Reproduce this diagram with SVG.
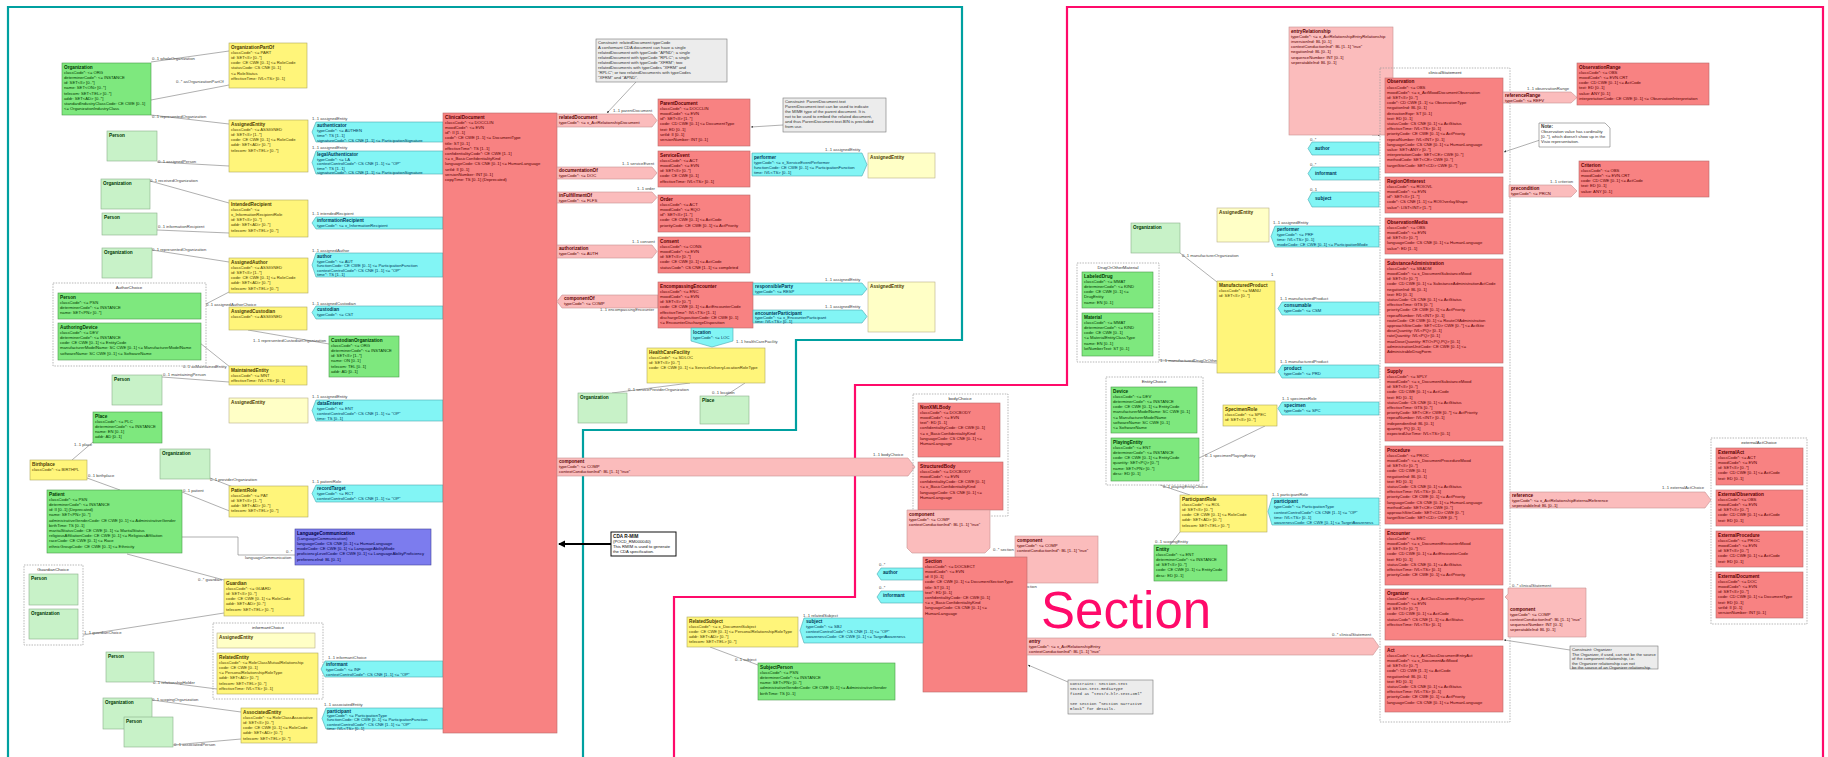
<svg xmlns="http://www.w3.org/2000/svg" width="1828" height="757" viewBox="0 0 1828 757">
<defs>
<style>
text{font-family:"Liberation Sans",Arial,sans-serif;font-size:4.2px}
.b{font-weight:bold;font-size:4.7px}
.red rect,.red path{fill:#f88282;stroke:#b86a6a;stroke-width:.6}
.red text{fill:#5a0000}
.pink rect,.pink path{fill:#fbbcbc;stroke:#c89090;stroke-width:.6}
.pink text{fill:#5a0000}
.cyan path,.cyan rect{fill:#82f5f5;stroke:#4aa8b0;stroke-width:.6}
.cyan text{fill:#003a5a}
.yel rect{fill:#fff57a;stroke:#b0a860;stroke-width:.6}
.yel text{fill:#4a3a00}
.lyel rect{fill:#ffffc6;stroke:#b8b088;stroke-width:.6}
.lyel text{fill:#4a3a00}
.grn rect{fill:#7ee87e;stroke:#4a9a4a;stroke-width:.6}
.grn text{fill:#003800}
.lgrn rect{fill:#c8f2c8;stroke:#8ab08a;stroke-width:.6}
.lgrn text{fill:#003800}
.pur rect{fill:#7c7cee;stroke:#44449a;stroke-width:.6}
.pur text{fill:#000044}
.note rect,.note path{fill:#ececec;stroke:#777;stroke-width:.6}
.note text{fill:#333}
.mono text{font-family:"Liberation Mono",monospace;font-size:4px}
.dash{fill:none;stroke:#999;stroke-dasharray:1.5 1.2;stroke-width:.7}
.ct{font-size:4.4px;fill:#333;text-anchor:middle}
.con path{fill:none;stroke:#7a7a7a;stroke-width:.6}
.lbl{font-size:3.7px;fill:#444}
.frame{fill:none;stroke-width:2.2}
</style>
<marker id="ah" viewBox="0 0 6 6" refX="6" refY="3" markerWidth="4" markerHeight="4" orient="auto"><path d="M0,0 L6,3 L0,6 Z" fill="#333"/></marker>
<marker id="bh" viewBox="0 0 6 6" refX="5" refY="3" markerWidth="4" markerHeight="4" orient="auto"><path d="M0,0 L6,3 L0,6 Z" fill="#000"/></marker>
</defs>
<rect width="1828" height="757" fill="#ffffff"/>

<!-- region frames -->
<path class="frame" d="M8,757 V7 H962 V340 H796 V430 H583 V757" stroke="#00a0a0"/>
<path class="frame" d="M674,757 V597 H855 V385 H1067 V7 H1823 V757" stroke="#ff0a6a"/>
<text x="1041" y="628" style="font-family:'Liberation Sans',Arial,sans-serif;font-size:51px;fill:#ff0a6a">Section</text>

<!-- connectors -->
<g id="connectors" class="con">
<path d="M151,62 L229,51"/><path d="M151,100 L229,85"/><path d="M151,115 L229,124"/>
<path d="M157,162 L229,166"/><path d="M150,181 L229,203"/><path d="M157,230 L229,233"/>
<path d="M152,250 L229,262"/><path d="M206,304 L229,292"/><path d="M248,330 L329,344"/>
<path d="M200,343 L230,367"/><path d="M162,377 L229,382"/><path d="M93,442 L72,460"/>
<path d="M87,478 L120,490"/><path d="M210,478 L233,487"/><path d="M182,492 L232,512"/>
<path d="M182,537 H238 V555 H295"/><path d="M127,554 L224,580"/><path d="M83,635 L224,613"/>
<path d="M154,681 L217,689"/><path d="M152,700 L241,712"/><path d="M173,745 L241,739"/>
<path d="M636,82 L607,113" marker-end="url(#ah)"/><path d="M783,125 L751,127" marker-end="url(#ah)"/>
<path d="M690,383 L612,393"/><path d="M745,383 L725,396"/>
<path d="M1068,682 L1028,665" marker-end="url(#ah)"/><path d="M710,647 L758,665"/>
<path d="M1180,253 L1217,282"/><path d="M1159,360 L1217,363"/><path d="M1265,426 L1199,458"/>
<path d="M1160,485 L1190,495"/><path d="M1180,532 L1170,545"/>
<path d="M1540,140 L1504,152" marker-end="url(#ah)"/><path d="M1570,650 L1504,640" marker-end="url(#ah)"/>
<path d="M1372,135 L1380,135" marker-end="url(#ah)"/>
<path d="M611,544 L559,544" style="stroke:#000;stroke-width:1.8" marker-end="url(#bh)"/>
<g class="lbl">
<text x="152" y="60">0..1 wholeOrganization</text>
<text x="176" y="83">0..* asOrganizationPartOf</text>
<text x="152" y="118">0..1 representedOrganization</text>
<text x="158" y="163">0..1 assignedPerson</text>
<text x="150" y="182">0..1 receivedOrganization</text>
<text x="158" y="228">0..1 informationRecipient</text>
<text x="152" y="251">0..1 representedOrganization</text>
<text x="206" y="306">0..1 assignedAuthorChoice</text>
<text x="253" y="342">1..1 representedCustodianOrganization</text>
<text x="183" y="368">0..1 asMaintainedEntity</text>
<text x="163" y="376">0..1 maintainingPerson</text>
<text x="74" y="446">1..1 place</text>
<text x="88" y="477">0..1 birthplace</text>
<text x="210" y="481">0..1 providerOrganization</text>
<text x="183" y="492">0..1 patient</text>
<text x="245" y="559">languageCommunication</text>
<text x="286" y="553">0..*</text>
<text x="198" y="581">0..* guardian</text>
<text x="84" y="634">1..1 guardianChoice</text>
<text x="153" y="684">0..1 relationshipHolder</text>
<text x="152" y="701">0..1 scopingOrganization</text>
<text x="174" y="746">0..1 associatedPerson</text>
<text x="312" y="120">1..1 assignedEntity</text>
<text x="312" y="149">1..1 assignedEntity</text>
<text x="312" y="215">1..1 intendedRecipient</text>
<text x="312" y="252">1..1 assignedAuthor</text>
<text x="312" y="305">1..1 assignedCustodian</text>
<text x="312" y="398">1..1 assignedEntity</text>
<text x="312" y="483">1..1 patientRole</text>
<text x="328" y="659">1..1 informantChoice</text>
<text x="324" y="706">1..1 associatedEntity</text>
<text x="613" y="112">1..1 parentDocument</text>
<text x="622" y="165">1..1 serviceEvent</text>
<text x="637" y="190">1..1 order</text>
<text x="632" y="243">1..1 consent</text>
<text x="600" y="311">1..1 encompassingEncounter</text>
<text x="825" y="151">1..1 assignedEntity</text>
<text x="825" y="281">1..1 assignedEntity</text>
<text x="825" y="308">1..1 assignedEntity</text>
<text x="736" y="343">1..1 healthCareFacility</text>
<text x="628" y="391">0..1 serviceProviderOrganization</text>
<text x="712" y="394">0..1 location</text>
<text x="873" y="456">1..1 bodyChoice</text>
<text x="993" y="551">0..* section</text>
<text x="1016" y="588">0..* section</text>
<text x="879" y="566">0..*</text>
<text x="879" y="589">0..*</text>
<text x="803" y="617">1..1 relatedSubject</text>
<text x="735" y="661">0..1 subject</text>
<text x="1332" y="636">0..* clinicalStatement</text>
<text x="1342" y="134">0..* clinicalStatement</text>
<text x="1310" y="141">0..*</text>
<text x="1310" y="166">0..*</text>
<text x="1310" y="191">0..1</text>
<text x="1273" y="224">1..1 assignedEntity</text>
<text x="1182" y="257">0..1 manufacturerOrganization</text>
<text x="1160" y="362">1..1 manufacturedDrugOrOtherMaterial</text>
<text x="1280" y="300">1..1 manufacturedProduct</text>
<text x="1280" y="363">1..1 manufacturedProduct</text>
<text x="1282" y="400">1..1 specimenRole</text>
<text x="1205" y="457">0..1 specimenPlayingEntity</text>
<text x="1163" y="488">0..1 playingEntityChoice</text>
<text x="1155" y="543">0..1 scopingEntity</text>
<text x="1272" y="496">1..1 participantRole</text>
<text x="1527" y="90">1..1 observationRange</text>
<text x="1550" y="183">1..1 criterion</text>
<text x="1662" y="489">1..1 externalActChoice</text>
<text x="1512" y="587">0..* clinicalStatement</text>
<text x="1271" y="276">1</text>
</g>
</g>

<!-- LEFT: header participants -->
<g id="n-organization1" class="grn" transform="translate(62,63)"><rect width="89" height="52"/><text x="2" y="5.5"><tspan class="b">Organization</tspan><tspan x="2" dy="5.2">classCode*: &lt;= ORG</tspan><tspan x="2" dy="5.2">determinerCode*: &lt;= INSTANCE</tspan><tspan x="2" dy="5.2">id: SET&lt;II&gt; [0..*]</tspan><tspan x="2" dy="5.2">name: SET&lt;ON&gt; [0..*]</tspan><tspan x="2" dy="5.2">telecom: SET&lt;TEL&gt; [0..*]</tspan><tspan x="2" dy="5.2">addr: SET&lt;AD&gt; [0..*]</tspan><tspan x="2" dy="5.2">standardIndustryClassCode: CE CWE [0..1]</tspan><tspan x="2" dy="5.2">&lt;= OrganizationIndustryClass</tspan></text></g>
<g id="n-organizationpartof" class="yel" transform="translate(229,43)"><rect width="78" height="45"/><text x="2" y="5.5"><tspan class="b">OrganizationPartOf</tspan><tspan x="2" dy="5.2">classCode*: &lt;= PART</tspan><tspan x="2" dy="5.2">id: SET&lt;II&gt; [0..*]</tspan><tspan x="2" dy="5.2">code: CE CWE [0..1] &lt;= RoleCode</tspan><tspan x="2" dy="5.2">statusCode: CS CNE [0..1]</tspan><tspan x="2" dy="5.2">&lt;= RoleStatus</tspan><tspan x="2" dy="5.2">effectiveTime: IVL&lt;TS&gt; [0..1]</tspan></text></g>
<g id="n-assignedentity1" class="yel" transform="translate(229,120)"><rect width="79" height="52"/><text x="2" y="5.5"><tspan class="b">AssignedEntity</tspan><tspan x="2" dy="5.2">classCode*: &lt;= ASSIGNED</tspan><tspan x="2" dy="5.2">id: SET&lt;II&gt; [1..*]</tspan><tspan x="2" dy="5.2">code: CE CWE [0..1] &lt;= RoleCode</tspan><tspan x="2" dy="5.2">addr: SET&lt;AD&gt; [0..*]</tspan><tspan x="2" dy="5.2">telecom: SET&lt;TEL&gt; [0..*]</tspan></text></g>
<g id="n-person1" class="lgrn" transform="translate(107,131)"><rect width="50" height="30"/><text x="2" y="5.5"><tspan class="b">Person</tspan></text></g>
<g id="n-authenticator" class="cyan" transform="translate(312,122)"><path d="M4,0 H131 V20 H4 L0,10 Z"/><text x="5" y="5"><tspan class="b">authenticator</tspan><tspan x="5" dy="5">typeCode*: &lt;= AUTHEN</tspan><tspan x="5" dy="5">time*: TS [1..1]</tspan><tspan x="5" dy="5">signatureCode*: CS CNE [1..1] &lt;= ParticipationSignature</tspan></text></g>
<g id="n-legalauthenticator" class="cyan" transform="translate(312,151)"><path d="M4,0 H131 V23 H4 L0,11.5 Z"/><text x="5" y="5"><tspan class="b">legalAuthenticator</tspan><tspan x="5" dy="4.5">typeCode*: &lt;= LA</tspan><tspan x="5" dy="4.5">contextControlCode*: CS CNE [1..1] &lt;= "OP"</tspan><tspan x="5" dy="4.5">time*: TS [1..1]</tspan><tspan x="5" dy="4.5">signatureCode*: CS CNE [1..1] &lt;= ParticipationSignature</tspan></text></g>
<g id="n-organization2" class="lgrn" transform="translate(101,179)"><rect width="49" height="30"/><text x="2" y="5.5"><tspan class="b">Organization</tspan></text></g>
<g id="n-intendedrecipient" class="yel" transform="translate(229,200)"><rect width="79" height="37"/><text x="2" y="5.5"><tspan class="b">IntendedRecipient</tspan><tspan x="2" dy="5.2">classCode*: &lt;=</tspan><tspan x="2" dy="5.2">x_InformationRecipientRole</tspan><tspan x="2" dy="5.2">id: SET&lt;II&gt; [0..*]</tspan><tspan x="2" dy="5.2">addr: SET&lt;AD&gt; [0..*]</tspan><tspan x="2" dy="5.2">telecom: SET&lt;TEL&gt; [0..*]</tspan></text></g>
<g id="n-person2" class="lgrn" transform="translate(102,213)"><rect width="55" height="22"/><text x="2" y="5.5"><tspan class="b">Person</tspan></text></g>
<g id="n-informationrecipient" class="cyan" transform="translate(312,217)"><path d="M4,0 H131 V12 H4 L0,6 Z"/><text x="5" y="5"><tspan class="b">informationRecipient</tspan><tspan x="5" dy="5">typeCode*: &lt;= x_InformationRecipient</tspan></text></g>
<g id="n-organization3" class="lgrn" transform="translate(102,248)"><rect width="50" height="30"/><text x="2" y="5.5"><tspan class="b">Organization</tspan></text></g>
<g id="n-assignedauthor" class="yel" transform="translate(229,258)"><rect width="79" height="35"/><text x="2" y="5.5"><tspan class="b">AssignedAuthor</tspan><tspan x="2" dy="5.2">classCode*: &lt;= ASSIGNED</tspan><tspan x="2" dy="5.2">id: SET&lt;II&gt; [1..*]</tspan><tspan x="2" dy="5.2">code: CE CWE [0..1] &lt;= RoleCode</tspan><tspan x="2" dy="5.2">addr: SET&lt;AD&gt; [0..*]</tspan><tspan x="2" dy="5.2">telecom: SET&lt;TEL&gt; [0..*]</tspan></text></g>
<g id="n-author" class="cyan" transform="translate(312,253)"><path d="M4,0 H131 V24 H4 L0,12 Z"/><text x="5" y="5"><tspan class="b">author</tspan><tspan x="5" dy="4.6">typeCode*: &lt;= AUT</tspan><tspan x="5" dy="4.6">functionCode: CE CWE [0..1] &lt;= ParticipationFunction</tspan><tspan x="5" dy="4.6">contextControlCode*: CS CNE [1..1] &lt;= "OP"</tspan><tspan x="5" dy="4.6">time*: TS [1..1]</tspan></text></g>
<g id="n-authorchoice"><rect class="dash" x="53" y="283" width="153" height="83"/><text class="ct" x="129" y="289">AuthorChoice</text>
<g class="grn" transform="translate(58,293)"><rect width="143" height="26"/><text x="2" y="5.5"><tspan class="b">Person</tspan><tspan x="2" dy="5.2">classCode*: &lt;= PSN</tspan><tspan x="2" dy="5.2">determinerCode*: &lt;= INSTANCE</tspan><tspan x="2" dy="5.2">name: SET&lt;PN&gt; [0..*]</tspan></text></g>
<g class="grn" transform="translate(58,323)"><rect width="143" height="37"/><text x="2" y="5.5"><tspan class="b">AuthoringDevice</tspan><tspan x="2" dy="5.2">classCode*: &lt;= DEV</tspan><tspan x="2" dy="5.2">determinerCode*: &lt;= INSTANCE</tspan><tspan x="2" dy="5.2">code: CE CWE [0..1] &lt;= EntityCode</tspan><tspan x="2" dy="5.2">manufacturerModelName: SC CWE [0..1] &lt;= ManufacturerModelName</tspan><tspan x="2" dy="5.2">softwareName: SC CWE [0..1] &lt;= SoftwareName</tspan></text></g></g>
<g id="n-assignedcustodian" class="yel" transform="translate(229,307)"><rect width="78" height="23"/><text x="2" y="5.5"><tspan class="b">AssignedCustodian</tspan><tspan x="2" dy="5.2">classCode*: &lt;= ASSIGNED</tspan></text></g>
<g id="n-custodian" class="cyan" transform="translate(312,306)"><path d="M4,0 H131 V13 H4 L0,6.5 Z"/><text x="5" y="5"><tspan class="b">custodian</tspan><tspan x="5" dy="5">typeCode*: &lt;= CST</tspan></text></g>
<g id="n-custodianorganization" class="grn" transform="translate(329,336)"><rect width="70" height="41"/><text x="2" y="5.5"><tspan class="b">CustodianOrganization</tspan><tspan x="2" dy="5.2">classCode*: &lt;= ORG</tspan><tspan x="2" dy="5.2">determinerCode*: &lt;= INSTANCE</tspan><tspan x="2" dy="5.2">id: SET&lt;II&gt; [1..*]</tspan><tspan x="2" dy="5.2">name: ON [0..1]</tspan><tspan x="2" dy="5.2">telecom: TEL [0..1]</tspan><tspan x="2" dy="5.2">addr: AD [0..1]</tspan></text></g>
<g id="n-maintainedentity" class="yel" transform="translate(229,366)"><rect width="78" height="19"/><text x="2" y="5.5"><tspan class="b">MaintainedEntity</tspan><tspan x="2" dy="5.2">classCode*: &lt;= MNT</tspan><tspan x="2" dy="5.2">effectiveTime: IVL&lt;TS&gt; [0..1]</tspan></text></g>
<g id="n-person3" class="lgrn" transform="translate(112,375)"><rect width="50" height="30"/><text x="2" y="5.5"><tspan class="b">Person</tspan></text></g>
<g id="n-assignedentity2" class="lyel" transform="translate(229,398)"><rect width="79" height="25"/><text x="2" y="5.5"><tspan class="b">AssignedEntity</tspan></text></g>
<g id="n-dataenterer" class="cyan" transform="translate(312,400)"><path d="M4,0 H131 V21 H4 L0,10.5 Z"/><text x="5" y="5"><tspan class="b">dataEnterer</tspan><tspan x="5" dy="5">typeCode*: &lt;= ENT</tspan><tspan x="5" dy="5">contextControlCode*: CS CNE [1..1] &lt;= "OP"</tspan><tspan x="5" dy="5">time: TS [0..1]</tspan></text></g>
<g id="n-place1" class="grn" transform="translate(93,412)"><rect width="69" height="31"/><text x="2" y="5.5"><tspan class="b">Place</tspan><tspan x="2" dy="5.2">classCode*: &lt;= PLC</tspan><tspan x="2" dy="5.2">determinerCode*: &lt;= INSTANCE</tspan><tspan x="2" dy="5.2">name: EN [0..1]</tspan><tspan x="2" dy="5.2">addr: AD [0..1]</tspan></text></g>
<g id="n-birthplace" class="yel" transform="translate(30,460)"><rect width="57" height="20"/><text x="2" y="5.5"><tspan class="b">Birthplace</tspan><tspan x="2" dy="5.2">classCode*: &lt;= BIRTHPL</tspan></text></g>
<g id="n-organization4" class="lgrn" transform="translate(160,449)"><rect width="50" height="30"/><text x="2" y="5.5"><tspan class="b">Organization</tspan></text></g>
<g id="n-patientrole" class="yel" transform="translate(229,486)"><rect width="79" height="31"/><text x="2" y="5.5"><tspan class="b">PatientRole</tspan><tspan x="2" dy="5.2">classCode*: &lt;= PAT</tspan><tspan x="2" dy="5.2">id: SET&lt;II&gt; [1..*]</tspan><tspan x="2" dy="5.2">addr: SET&lt;AD&gt; [0..*]</tspan><tspan x="2" dy="5.2">telecom: SET&lt;TEL&gt; [0..*]</tspan></text></g>
<g id="n-recordtarget" class="cyan" transform="translate(312,485)"><path d="M4,0 H131 V17 H4 L0,8.5 Z"/><text x="5" y="5"><tspan class="b">recordTarget</tspan><tspan x="5" dy="5">typeCode*: &lt;= RCT</tspan><tspan x="5" dy="5">contextControlCode*: CS CNE [1..1] &lt;= "OP"</tspan></text></g>
<g id="n-patient" class="grn" transform="translate(47,490)"><rect width="135" height="63"/><text x="2" y="5.5"><tspan class="b">Patient</tspan><tspan x="2" dy="5.2">classCode*: &lt;= PSN</tspan><tspan x="2" dy="5.2">determinerCode*: &lt;= INSTANCE</tspan><tspan x="2" dy="5.2">id: II [0..1] (Deprecated)</tspan><tspan x="2" dy="5.2">name: SET&lt;PN&gt; [0..*]</tspan><tspan x="2" dy="5.2">administrativeGenderCode: CE CWE [0..1] &lt;= AdministrativeGender</tspan><tspan x="2" dy="5.2">birthTime: TS [0..1]</tspan><tspan x="2" dy="5.2">maritalStatusCode: CE CWE [0..1] &lt;= MaritalStatus</tspan><tspan x="2" dy="5.2">religiousAffiliationCode: CE CWE [0..1] &lt;= ReligiousAffiliation</tspan><tspan x="2" dy="5.2">raceCode: CE CWE [0..1] &lt;= Race</tspan><tspan x="2" dy="5.2">ethnicGroupCode: CE CWE [0..1] &lt;= Ethnicity</tspan></text></g>
<g id="n-languagecommunication" class="pur" transform="translate(295,529)"><rect width="136" height="36"/><text x="2" y="5.5"><tspan class="b">LanguageCommunication</tspan><tspan x="2" dy="5.2">(LanguageCommunication)</tspan><tspan x="2" dy="5.2">languageCode: CS CNE [0..1] &lt;= HumanLanguage</tspan><tspan x="2" dy="5.2">modeCode: CE CWE [0..1] &lt;= LanguageAbilityMode</tspan><tspan x="2" dy="5.2">proficiencyLevelCode: CE CWE [0..1] &lt;= LanguageAbilityProficiency</tspan><tspan x="2" dy="5.2">preferenceInd: BL [0..1]</tspan></text></g>
<g id="n-guardian" class="yel" transform="translate(224,579)"><rect width="80" height="37"/><text x="2" y="5.5"><tspan class="b">Guardian</tspan><tspan x="2" dy="5.2">classCode*: &lt;= GUARD</tspan><tspan x="2" dy="5.2">id: SET&lt;II&gt; [0..*]</tspan><tspan x="2" dy="5.2">code: CE CWE [0..1] &lt;= RoleCode</tspan><tspan x="2" dy="5.2">addr: SET&lt;AD&gt; [0..*]</tspan><tspan x="2" dy="5.2">telecom: SET&lt;TEL&gt; [0..*]</tspan></text></g>
<g id="n-guardianchoice"><rect class="dash" x="24" y="565" width="59" height="80"/><text class="ct" x="53" y="571">GuardianChoice</text>
<g class="lgrn" transform="translate(29,574)"><rect width="49" height="31"/><text x="2" y="5.5"><tspan class="b">Person</tspan></text></g>
<g class="lgrn" transform="translate(29,609)"><rect width="49" height="30"/><text x="2" y="5.5"><tspan class="b">Organization</tspan></text></g></g>
<g id="n-informantchoice"><rect class="dash" x="213" y="623" width="110" height="76"/><text class="ct" x="268" y="629">informantChoice</text>
<g class="lyel" transform="translate(217,633)"><rect width="98" height="15"/><text x="2" y="5.5"><tspan class="b">AssignedEntity</tspan></text></g>
<g class="yel" transform="translate(217,653)"><rect width="101" height="41"/><text x="2" y="5.5"><tspan class="b">RelatedEntity</tspan><tspan x="2" dy="5.2">classCode*: &lt;= RoleClassMutualRelationship</tspan><tspan x="2" dy="5.2">code: CE CWE [0..1]</tspan><tspan x="2" dy="5.2">&lt;= PersonalRelationshipRoleType</tspan><tspan x="2" dy="5.2">addr: SET&lt;AD&gt; [0..*]</tspan><tspan x="2" dy="5.2">telecom: SET&lt;TEL&gt; [0..*]</tspan><tspan x="2" dy="5.2">effectiveTime: IVL&lt;TS&gt; [0..1]</tspan></text></g></g>
<g id="n-informant" class="cyan" transform="translate(321,661)"><path d="M4,0 H122 V16 H4 L0,8 Z"/><text x="5" y="5"><tspan class="b">informant</tspan><tspan x="5" dy="5">typeCode*: &lt;= INF</tspan><tspan x="5" dy="5">contextControlCode*: CS CNE [1..1] &lt;= "OP"</tspan></text></g>
<g id="n-person4" class="lgrn" transform="translate(106,652)"><rect width="48" height="30"/><text x="2" y="5.5"><tspan class="b">Person</tspan></text></g>
<g id="n-organization5" class="lgrn" transform="translate(103,698)"><rect width="49" height="31"/><text x="2" y="5.5"><tspan class="b">Organization</tspan></text></g>
<g id="n-person5" class="lgrn" transform="translate(124,717)"><rect width="49" height="30"/><text x="2" y="5.5"><tspan class="b">Person</tspan></text></g>
<g id="n-associatedentity" class="yel" transform="translate(241,708)"><rect width="76" height="35"/><text x="2" y="5.5"><tspan class="b">AssociatedEntity</tspan><tspan x="2" dy="5.2">classCode*: &lt;= RoleClassAssociative</tspan><tspan x="2" dy="5.2">id: SET&lt;II&gt; [0..*]</tspan><tspan x="2" dy="5.2">code: CE CWE [0..1] &lt;= RoleCode</tspan><tspan x="2" dy="5.2">addr: SET&lt;AD&gt; [0..*]</tspan><tspan x="2" dy="5.2">telecom: SET&lt;TEL&gt; [0..*]</tspan></text></g>
<g id="n-participant1" class="cyan" transform="translate(322,708)"><path d="M4,0 H121 V21 H4 L0,10.5 Z"/><text x="5" y="5"><tspan class="b">participant</tspan><tspan x="5" dy="4.2">typeCode*: &lt;= ParticipationType</tspan><tspan x="5" dy="4.2">functionCode: CE CWE [0..1] &lt;= ParticipationFunction</tspan><tspan x="5" dy="4.2">contextControlCode*: CS CNE [1..1] &lt;= "OP"</tspan><tspan x="5" dy="4.2">time: IVL&lt;TS&gt; [0..1]</tspan></text></g>

<!-- ClinicalDocument -->
<g id="n-clinicaldocument" class="red" transform="translate(443,113)"><rect width="114" height="620"/><text x="2" y="5.5"><tspan class="b">ClinicalDocument</tspan><tspan x="2" dy="5.2">classCode*: &lt;= DOCCLIN</tspan><tspan x="2" dy="5.2">moodCode*: &lt;= EVN</tspan><tspan x="2" dy="5.2">id*: II [1..1]</tspan><tspan x="2" dy="5.2">code*: CE CWE [1..1] &lt;= DocumentType</tspan><tspan x="2" dy="5.2">title: ST [0..1]</tspan><tspan x="2" dy="5.2">effectiveTime*: TS [1..1]</tspan><tspan x="2" dy="5.2">confidentialityCode*: CE CWE [1..1]</tspan><tspan x="2" dy="5.2">&lt;= x_BasicConfidentialityKind</tspan><tspan x="2" dy="5.2">languageCode: CS CNE [0..1] &lt;= HumanLanguage</tspan><tspan x="2" dy="5.2">setId: II [0..1]</tspan><tspan x="2" dy="5.2">versionNumber: INT [0..1]</tspan><tspan x="2" dy="5.2">copyTime: TS [0..1] (Deprecated)</tspan></text></g>

<!-- MIDDLE -->
<g id="n-note-relateddocument" class="note" transform="translate(596,39)"><rect width="131" height="43"/><text x="2" y="5"><tspan>Constraint: relatedDocument.typeCode</tspan><tspan x="2" dy="5">A conformant CDA document can have a single</tspan><tspan x="2" dy="5">relatedDocument with typeCode "APND"; a single</tspan><tspan x="2" dy="5">relatedDocument with typeCode "RPLC"; a single</tspan><tspan x="2" dy="5">relatedDocument with typeCode "XFRM"; two</tspan><tspan x="2" dy="5">relatedDocuments with typeCodes "XFRM" and</tspan><tspan x="2" dy="5">"RPLC"; or two relatedDocuments with typeCodes</tspan><tspan x="2" dy="5">"XFRM" and "APND".</tspan></text></g>
<g id="n-relateddocument" class="pink" transform="translate(557,114)"><path d="M0,0 H95 L100,6.5 L95,13 H0 Z"/><text x="2" y="5"><tspan class="b">relatedDocument</tspan><tspan x="2" dy="5">typeCode*: &lt;= x_ActRelationshipDocument</tspan></text></g>
<g id="n-parentdocument" class="red" transform="translate(658,99)"><rect width="92" height="47"/><text x="2" y="5.5"><tspan class="b">ParentDocument</tspan><tspan x="2" dy="5.2">classCode*: &lt;= DOCCLIN</tspan><tspan x="2" dy="5.2">moodCode*: &lt;= EVN</tspan><tspan x="2" dy="5.2">id*: SET&lt;II&gt; [1..*]</tspan><tspan x="2" dy="5.2">code: CD CWE [0..1] &lt;= DocumentType</tspan><tspan x="2" dy="5.2">text: ED [0..1]</tspan><tspan x="2" dy="5.2">setId: II [0..1]</tspan><tspan x="2" dy="5.2">versionNumber: INT [0..1]</tspan></text></g>
<g id="n-note-parentdocument" class="note" transform="translate(783,98)"><rect width="103" height="34"/><text x="2" y="5"><tspan>Constraint: ParentDocument.text</tspan><tspan x="2" dy="5">ParentDocument.text can be used to indicate</tspan><tspan x="2" dy="5">the MIME type of the parent document. It is</tspan><tspan x="2" dy="5">not to be used to embed the related document,</tspan><tspan x="2" dy="5">and thus ParentDocument.text.BIN is precluded</tspan><tspan x="2" dy="5">from use.</tspan></text></g>
<g id="n-documentationof" class="pink" transform="translate(557,167)"><path d="M0,0 H95 L100,6 L95,12 H0 Z"/><text x="2" y="5"><tspan class="b">documentationOf</tspan><tspan x="2" dy="5">typeCode*: &lt;= DOC</tspan></text></g>
<g id="n-serviceevent" class="red" transform="translate(658,151)"><rect width="92" height="36"/><text x="2" y="5.5"><tspan class="b">ServiceEvent</tspan><tspan x="2" dy="5.2">classCode*: &lt;= ACT</tspan><tspan x="2" dy="5.2">moodCode*: &lt;= EVN</tspan><tspan x="2" dy="5.2">id: SET&lt;II&gt; [0..*]</tspan><tspan x="2" dy="5.2">code: CE CWE [0..1]</tspan><tspan x="2" dy="5.2">effectiveTime: IVL&lt;TS&gt; [0..1]</tspan></text></g>
<g id="n-performer1" class="cyan" transform="translate(752,153)"><path d="M0,0 H110 L115,11.5 L110,23 H0 Z"/><text x="2" y="5.5"><tspan class="b">performer</tspan><tspan x="2" dy="5">typeCode*: &lt;= x_ServiceEventPerformer</tspan><tspan x="2" dy="5">functionCode: CE CWE [0..1] &lt;= ParticipationFunction</tspan><tspan x="2" dy="5">time: IVL&lt;TS&gt; [0..1]</tspan></text></g>
<g id="n-assignedentity3" class="lyel" transform="translate(868,153)"><rect width="67" height="25"/><text x="2" y="5.5"><tspan class="b">AssignedEntity</tspan></text></g>
<g id="n-infulfillmentof" class="pink" transform="translate(557,192)"><path d="M0,0 H95 L100,5.5 L95,11 H0 Z"/><text x="2" y="4.8"><tspan class="b">inFulfillmentOf</tspan><tspan x="2" dy="4.8">typeCode*: &lt;= FLFS</tspan></text></g>
<g id="n-order" class="red" transform="translate(658,195)"><rect width="92" height="37"/><text x="2" y="5.5"><tspan class="b">Order</tspan><tspan x="2" dy="5.2">classCode*: &lt;= ACT</tspan><tspan x="2" dy="5.2">moodCode*: &lt;= RQO</tspan><tspan x="2" dy="5.2">id*: SET&lt;II&gt; [1..*]</tspan><tspan x="2" dy="5.2">code: CE CWE [0..1] &lt;= ActCode</tspan><tspan x="2" dy="5.2">priorityCode: CE CWE [0..1] &lt;= ActPriority</tspan></text></g>
<g id="n-authorization" class="pink" transform="translate(557,245)"><path d="M0,0 H95 L100,6.5 L95,13 H0 Z"/><text x="2" y="5"><tspan class="b">authorization</tspan><tspan x="2" dy="5">typeCode*: &lt;= AUTH</tspan></text></g>
<g id="n-consent" class="red" transform="translate(658,237)"><rect width="92" height="36"/><text x="2" y="5.5"><tspan class="b">Consent</tspan><tspan x="2" dy="5.2">classCode*: &lt;= CONS</tspan><tspan x="2" dy="5.2">moodCode*: &lt;= EVN</tspan><tspan x="2" dy="5.2">id: SET&lt;II&gt; [0..*]</tspan><tspan x="2" dy="5.2">code: CE CWE [0..1] &lt;= ActCode</tspan><tspan x="2" dy="5.2">statusCode*: CS CNE [1..1] &lt;= completed</tspan></text></g>
<g id="n-componentof" class="pink" transform="translate(557,295)"><path d="M5,0 H101 V13 H5 L0,6.5 Z"/><text x="7" y="5"><tspan class="b">componentOf</tspan><tspan x="7" dy="5">typeCode*: &lt;= COMP</tspan></text></g>
<g id="n-encompassingencounter" class="red" transform="translate(658,282)"><rect width="95" height="46"/><text x="2" y="5.5"><tspan class="b">EncompassingEncounter</tspan><tspan x="2" dy="5.2">classCode*: &lt;= ENC</tspan><tspan x="2" dy="5.2">moodCode*: &lt;= EVN</tspan><tspan x="2" dy="5.2">id: SET&lt;II&gt; [0..*]</tspan><tspan x="2" dy="5.2">code: CE CWE [0..1] &lt;= ActEncounterCode</tspan><tspan x="2" dy="5.2">effectiveTime*: IVL&lt;TS&gt; [1..1]</tspan><tspan x="2" dy="5.2">dischargeDispositionCode: CE CWE [0..1]</tspan><tspan x="2" dy="5.2">&lt;= EncounterDischargeDisposition</tspan></text></g>
<g id="n-responsibleparty" class="cyan" transform="translate(753,283)"><path d="M0,0 H109 L114,6 L109,12 H0 Z"/><text x="2" y="5"><tspan class="b">responsibleParty</tspan><tspan x="2" dy="5">typeCode*: &lt;= RESP</tspan></text></g>
<g id="n-encounterparticipant" class="cyan" transform="translate(753,310)"><path d="M0,0 H109 L114,6.5 L109,13 H0 Z"/><text x="2" y="4.5"><tspan class="b">encounterParticipant</tspan><tspan x="2" dy="4.3">typeCode*: &lt;= x_EncounterParticipant</tspan><tspan x="2" dy="4.3">time: IVL&lt;TS&gt; [0..1]</tspan></text></g>
<g id="n-assignedentity4" class="lyel" transform="translate(868,282)"><rect width="67" height="50"/><text x="2" y="5.5"><tspan class="b">AssignedEntity</tspan></text></g>
<g id="n-location" class="cyan" transform="translate(691,328)"><path d="M0,0 H42 V13 L21,19 L0,13 Z"/><text x="2" y="5.5"><tspan class="b">location</tspan><tspan x="2" dy="5">typeCode*: &lt;= LOC</tspan></text></g>
<g id="n-healthcarefacility" class="yel" transform="translate(647,348)"><rect width="118" height="35"/><text x="2" y="5.5"><tspan class="b">HealthCareFacility</tspan><tspan x="2" dy="5.2">classCode*: &lt;= SDLOC</tspan><tspan x="2" dy="5.2">id: SET&lt;II&gt; [0..*]</tspan><tspan x="2" dy="5.2">code: CE CWE [0..1] &lt;= ServiceDeliveryLocationRoleType</tspan></text></g>
<g id="n-organization6" class="lgrn" transform="translate(578,393)"><rect width="49" height="30"/><text x="2" y="5.5"><tspan class="b">Organization</tspan></text></g>
<g id="n-place2" class="lgrn" transform="translate(700,396)"><rect width="49" height="28"/><text x="2" y="5.5"><tspan class="b">Place</tspan></text></g>
<g id="n-component-body" class="pink" transform="translate(557,458)"><path d="M0,0 H351 L358,9 L351,18 H0 Z"/><text x="2" y="5.2"><tspan class="b">component</tspan><tspan x="2" dy="5">typeCode*: &lt;= COMP</tspan><tspan x="2" dy="5">contextConductionInd*: BL [1..1] "true"</tspan></text></g>
<g id="n-cda-rmim" transform="translate(611,532)"><rect width="65" height="24" fill="#fff" stroke="#111" stroke-width="1"/><text x="2" y="5.5" fill="#111"><tspan class="b">CDA R-MIM</tspan><tspan x="2" dy="5">(POCD_RM000040)</tspan><tspan x="2" dy="5">This RMIM is used to generate</tspan><tspan x="2" dy="5">the CDA specification.</tspan></text></g>

<!-- SECTION AREA -->
<g id="n-bodychoice"><rect class="dash" x="913" y="394" width="95" height="122"/><text class="ct" x="960" y="400">bodyChoice</text>
<g class="red" transform="translate(918,403)"><rect width="82" height="54"/><text x="2" y="5.5"><tspan class="b">NonXMLBody</tspan><tspan x="2" dy="5.2">classCode*: &lt;= DOCBODY</tspan><tspan x="2" dy="5.2">moodCode*: &lt;= EVN</tspan><tspan x="2" dy="5.2">text*: ED [1..1]</tspan><tspan x="2" dy="5.2">confidentialityCode: CE CWE [0..1]</tspan><tspan x="2" dy="5.2">&lt;= x_BasicConfidentialityKind</tspan><tspan x="2" dy="5.2">languageCode: CS CNE [0..1] &lt;=</tspan><tspan x="2" dy="5.2">HumanLanguage</tspan></text></g>
<g class="red" transform="translate(918,462)"><rect width="85" height="48"/><text x="2" y="5.5"><tspan class="b">StructuredBody</tspan><tspan x="2" dy="5.2">classCode*: &lt;= DOCBODY</tspan><tspan x="2" dy="5.2">moodCode*: &lt;= EVN</tspan><tspan x="2" dy="5.2">confidentialityCode: CE CWE [0..1]</tspan><tspan x="2" dy="5.2">&lt;= x_BasicConfidentialityKind</tspan><tspan x="2" dy="5.2">languageCode: CS CNE [0..1] &lt;=</tspan><tspan x="2" dy="5.2">HumanLanguage</tspan></text></g></g>
<g id="n-component-section" class="pink" transform="translate(907,510)"><path d="M0,0 H83 V38 L78,43 H5 L0,38 Z"/><text x="2" y="5.5"><tspan class="b">component</tspan><tspan x="2" dy="5">typeCode*: &lt;= COMP</tspan><tspan x="2" dy="5">contextConductionInd*: BL [1..1] "true"</tspan></text></g>
<g id="n-component-subsection" class="pink" transform="translate(1015,536)"><rect width="83" height="47"/><text x="2" y="5.5"><tspan class="b">component</tspan><tspan x="2" dy="5">typeCode*: &lt;= COMP</tspan><tspan x="2" dy="5">contextConductionInd*: BL [1..1] "true"</tspan></text></g>
<g id="n-section" class="red" transform="translate(923,557)"><rect width="104" height="135"/><text x="2" y="5.5"><tspan class="b">Section</tspan><tspan x="2" dy="5.2">classCode*: &lt;= DOCSECT</tspan><tspan x="2" dy="5.2">moodCode*: &lt;= EVN</tspan><tspan x="2" dy="5.2">id: II [0..1]</tspan><tspan x="2" dy="5.2">code: CE CWE [0..1] &lt;= DocumentSectionType</tspan><tspan x="2" dy="5.2">title: ST [0..1]</tspan><tspan x="2" dy="5.2">text*: ED [0..1]</tspan><tspan x="2" dy="5.2">confidentialityCode: CE CWE [0..1]</tspan><tspan x="2" dy="5.2">&lt;= x_BasicConfidentialityKind</tspan><tspan x="2" dy="5.2">languageCode: CS CNE [0..1] &lt;=</tspan><tspan x="2" dy="5.2">HumanLanguage</tspan></text></g>
<g id="n-author2" class="cyan" transform="translate(877,568)"><path d="M4,0 H46 V12 H4 L0,6 Z"/><text x="6" y="5.5"><tspan class="b">author</tspan></text></g>
<g id="n-informant2" class="cyan" transform="translate(877,591)"><path d="M4,0 H46 V12 H4 L0,6 Z"/><text x="6" y="5.5"><tspan class="b">informant</tspan></text></g>
<g id="n-subject1" class="cyan" transform="translate(800,618)"><path d="M4,0 H123 V25 H4 L0,12.5 Z"/><text x="6" y="5.2"><tspan class="b">subject</tspan><tspan x="6" dy="5">typeCode*: &lt;= SBJ</tspan><tspan x="6" dy="5">contextControlCode*: CS CNE [1..1] &lt;= "OP"</tspan><tspan x="6" dy="5">awarenessCode: CE CWE [0..1] &lt;= TargetAwareness</tspan></text></g>
<g id="n-relatedsubject" class="yel" transform="translate(687,617)"><rect width="111" height="30"/><text x="2" y="5.5"><tspan class="b">RelatedSubject</tspan><tspan x="2" dy="5.2">classCode*: &lt;= x_DocumentSubject</tspan><tspan x="2" dy="5.2">code: CE CWE [0..1] &lt;= PersonalRelationshipRoleType</tspan><tspan x="2" dy="5.2">addr: SET&lt;AD&gt; [0..*]</tspan><tspan x="2" dy="5.2">telecom: SET&lt;TEL&gt; [0..*]</tspan></text></g>
<g id="n-subjectperson" class="grn" transform="translate(758,663)"><rect width="137" height="37"/><text x="2" y="5.5"><tspan class="b">SubjectPerson</tspan><tspan x="2" dy="5.2">classCode*: &lt;= PSN</tspan><tspan x="2" dy="5.2">determinerCode*: &lt;= INSTANCE</tspan><tspan x="2" dy="5.2">name: SET&lt;PN&gt; [0..*]</tspan><tspan x="2" dy="5.2">administrativeGenderCode: CE CWE [0..1] &lt;= AdministrativeGender</tspan><tspan x="2" dy="5.2">birthTime: TS [0..1]</tspan></text></g>
<g id="n-entry" class="pink" transform="translate(1027,638)"><path d="M0,0 H346 L352,8.5 L346,17 H0 Z"/><text x="2" y="5.2"><tspan class="b">entry</tspan><tspan x="2" dy="5">typeCode*: &lt;= x_ActRelationshipEntry</tspan><tspan x="2" dy="5">contextConductionInd*: BL [1..1] "true"</tspan></text></g>
<g id="n-note-sectiontext" class="note mono" transform="translate(1068,680)"><rect width="85" height="34"/><text x="2" y="5"><tspan>Constraint: Section.text</tspan><tspan x="2" dy="5">Section.text.mediaType</tspan><tspan x="2" dy="5">fixed as "text/x-hl7-text+xml"</tspan><tspan x="2" dy="10">See section "Section Narrative</tspan><tspan x="2" dy="5">Block" for details.</tspan></text></g>

<!-- RIGHT AREA -->
<g id="n-entryrelationship" class="pink" transform="translate(1289,27)"><rect width="104" height="108"/><text x="2" y="5.5"><tspan class="b">entryRelationship</tspan><tspan x="2" dy="5.2">typeCode*: &lt;= x_ActRelationshipEntryRelationship</tspan><tspan x="2" dy="5.2">inversionInd: BL [0..1]</tspan><tspan x="2" dy="5.2">contextConductionInd*: BL [1..1] "true"</tspan><tspan x="2" dy="5.2">negationInd: BL [0..1]</tspan><tspan x="2" dy="5.2">sequenceNumber: INT [0..1]</tspan><tspan x="2" dy="5.2">seperatableInd: BL [0..1]</tspan></text></g>
<g id="n-author3" class="cyan" transform="translate(1308,142)"><path d="M4,0 H71 V13 H4 L0,6.5 Z"/><text x="7" y="7.5"><tspan class="b">author</tspan></text></g>
<g id="n-informant3" class="cyan" transform="translate(1308,167)"><path d="M4,0 H71 V13 H4 L0,6.5 Z"/><text x="7" y="7.5"><tspan class="b">informant</tspan></text></g>
<g id="n-subject2" class="cyan" transform="translate(1308,192)"><path d="M4,0 H71 V15 H4 L0,7.5 Z"/><text x="7" y="8"><tspan class="b">subject</tspan></text></g>
<g id="n-assignedentity5" class="lyel" transform="translate(1217,208)"><rect width="52" height="34"/><text x="2" y="5.5"><tspan class="b">AssignedEntity</tspan></text></g>
<g id="n-performer2" class="cyan" transform="translate(1271,226)"><path d="M4,0 H108 V21 H4 L0,10.5 Z"/><text x="6" y="5"><tspan class="b">performer</tspan><tspan x="6" dy="5">typeCode*: &lt;= PRF</tspan><tspan x="6" dy="5">time: IVL&lt;TS&gt; [0..1]</tspan><tspan x="6" dy="5">modeCode: CE CWE [0..1] &lt;= ParticipationMode</tspan></text></g>
<g id="n-organization7" class="lgrn" transform="translate(1131,223)"><rect width="49" height="30"/><text x="2" y="5.5"><tspan class="b">Organization</tspan></text></g>
<g id="n-drugorothermaterial"><rect class="dash" x="1077" y="263" width="82" height="99"/><text class="ct" x="1118" y="269">DrugOrOtherMaterial</text>
<g class="grn" transform="translate(1082,272)"><rect width="71" height="36"/><text x="2" y="5.5"><tspan class="b">LabeledDrug</tspan><tspan x="2" dy="5.2">classCode*: &lt;= MMAT</tspan><tspan x="2" dy="5.2">determinerCode*: &lt;= KIND</tspan><tspan x="2" dy="5.2">code: CE CWE [0..1] &lt;=</tspan><tspan x="2" dy="5.2">DrugEntity</tspan><tspan x="2" dy="5.2">name: EN [0..1]</tspan></text></g>
<g class="grn" transform="translate(1082,313)"><rect width="71" height="43"/><text x="2" y="5.5"><tspan class="b">Material</tspan><tspan x="2" dy="5.2">classCode*: &lt;= MMAT</tspan><tspan x="2" dy="5.2">determinerCode*: &lt;= KIND</tspan><tspan x="2" dy="5.2">code: CE CWE [0..1]</tspan><tspan x="2" dy="5.2">&lt;= MaterialEntityClassType</tspan><tspan x="2" dy="5.2">name: EN [0..1]</tspan><tspan x="2" dy="5.2">lotNumberText: ST [0..1]</tspan></text></g></g>
<g id="n-manufacturedproduct" class="yel" transform="translate(1217,281)"><rect width="58" height="92"/><text x="2" y="5.5"><tspan class="b">ManufacturedProduct</tspan><tspan x="2" dy="5.2">classCode*: &lt;= MANU</tspan><tspan x="2" dy="5.2">id: SET&lt;II&gt; [0..*]</tspan></text></g>
<g id="n-consumable" class="cyan" transform="translate(1278,302)"><path d="M4,0 H101 V13 H4 L0,6.5 Z"/><text x="6" y="5.2"><tspan class="b">consumable</tspan><tspan x="6" dy="5">typeCode*: &lt;= CSM</tspan></text></g>
<g id="n-product" class="cyan" transform="translate(1278,365)"><path d="M4,0 H101 V13 H4 L0,6.5 Z"/><text x="6" y="5.2"><tspan class="b">product</tspan><tspan x="6" dy="5">typeCode*: &lt;= PRD</tspan></text></g>
<g id="n-entitychoice"><rect class="dash" x="1106" y="377" width="97" height="108"/><text class="ct" x="1154" y="383">EntityChoice</text>
<g class="grn" transform="translate(1111,387)"><rect width="86" height="46"/><text x="2" y="5.5"><tspan class="b">Device</tspan><tspan x="2" dy="5.2">classCode*: &lt;= DEV</tspan><tspan x="2" dy="5.2">determinerCode*: &lt;= INSTANCE</tspan><tspan x="2" dy="5.2">code: CE CWE [0..1] &lt;= EntityCode</tspan><tspan x="2" dy="5.2">manufacturerModelName: SC CWE [0..1]</tspan><tspan x="2" dy="5.2">&lt;= ManufacturerModelName</tspan><tspan x="2" dy="5.2">softwareName: SC CWE [0..1]</tspan><tspan x="2" dy="5.2">&lt;= SoftwareName</tspan></text></g>
<g class="grn" transform="translate(1111,438)"><rect width="88" height="43"/><text x="2" y="5.5"><tspan class="b">PlayingEntity</tspan><tspan x="2" dy="5.2">classCode*: &lt;= ENT</tspan><tspan x="2" dy="5.2">determinerCode*: &lt;= INSTANCE</tspan><tspan x="2" dy="5.2">code: CE CWE [0..1] &lt;= EntityCode</tspan><tspan x="2" dy="5.2">quantity: SET&lt;PQ&gt; [0..*]</tspan><tspan x="2" dy="5.2">name: SET&lt;PN&gt; [0..*]</tspan><tspan x="2" dy="5.2">desc: ED [0..1]</tspan></text></g></g>
<g id="n-specimenrole" class="yel" transform="translate(1223,405)"><rect width="54" height="21"/><text x="2" y="5.5"><tspan class="b">SpecimenRole</tspan><tspan x="2" dy="5.2">classCode*: &lt;= SPEC</tspan><tspan x="2" dy="5.2">id: SET&lt;II&gt; [0..*]</tspan></text></g>
<g id="n-specimen" class="cyan" transform="translate(1278,402)"><path d="M4,0 H101 V13 H4 L0,6.5 Z"/><text x="6" y="5.2"><tspan class="b">specimen</tspan><tspan x="6" dy="5">typeCode*: &lt;= SPC</tspan></text></g>
<g id="n-participantrole" class="yel" transform="translate(1180,495)"><rect width="87" height="37"/><text x="2" y="5.5"><tspan class="b">ParticipantRole</tspan><tspan x="2" dy="5.2">classCode*: &lt;= ROL</tspan><tspan x="2" dy="5.2">id: SET&lt;II&gt; [0..*]</tspan><tspan x="2" dy="5.2">code: CE CWE [0..1] &lt;= RoleCode</tspan><tspan x="2" dy="5.2">addr: SET&lt;AD&gt; [0..*]</tspan><tspan x="2" dy="5.2">telecom: SET&lt;TEL&gt; [0..*]</tspan></text></g>
<g id="n-participant2" class="cyan" transform="translate(1268,498)"><path d="M4,0 H111 V27 H4 L0,13.5 Z"/><text x="6" y="5.2"><tspan class="b">participant</tspan><tspan x="6" dy="5.2">typeCode*: &lt;= ParticipationType</tspan><tspan x="6" dy="5.2">contextControlCode*: CS CNE [1..1] &lt;= "OP"</tspan><tspan x="6" dy="5.2">time: IVL&lt;TS&gt; [0..1]</tspan><tspan x="6" dy="5.2">awarenessCode: CE CWE [0..1] &lt;= TargetAwareness</tspan></text></g>
<g id="n-entity" class="grn" transform="translate(1154,545)"><rect width="73" height="36"/><text x="2" y="5.5"><tspan class="b">Entity</tspan><tspan x="2" dy="5.2">classCode*: &lt;= ENT</tspan><tspan x="2" dy="5.2">determinerCode*: &lt;= INSTANCE</tspan><tspan x="2" dy="5.2">id: SET&lt;II&gt; [0..*]</tspan><tspan x="2" dy="5.2">code: CE CWE [0..1] &lt;= EntityCode</tspan><tspan x="2" dy="5.2">desc: ED [0..1]</tspan></text></g>

<g id="n-clinicalstatement"><rect class="dash" x="1380" y="68" width="130" height="654"/><text class="ct" x="1445" y="74">clinicalStatement</text>
<g class="red" transform="translate(1385,78)"><rect width="118" height="95"/><text x="2" y="5.3"><tspan class="b">Observation</tspan><tspan x="2" dy="5.2">classCode*: &lt;= OBS</tspan><tspan x="2" dy="5.2">moodCode*: &lt;= x_ActMoodDocumentObservation</tspan><tspan x="2" dy="5.2">id: SET&lt;II&gt; [0..*]</tspan><tspan x="2" dy="5.2">code*: CD CWE [1..1] &lt;= ObservationType</tspan><tspan x="2" dy="5.2">negationInd: BL [0..1]</tspan><tspan x="2" dy="5.2">derivationExpr: ST [0..1]</tspan><tspan x="2" dy="5.2">text: ED [0..1]</tspan><tspan x="2" dy="5.2">statusCode: CS CNE [0..1] &lt;= ActStatus</tspan><tspan x="2" dy="5.2">effectiveTime: IVL&lt;TS&gt; [0..1]</tspan><tspan x="2" dy="5.2">priorityCode: CE CWE [0..1] &lt;= ActPriority</tspan><tspan x="2" dy="5.2">repeatNumber: IVL&lt;INT&gt; [0..1]</tspan><tspan x="2" dy="5.2">languageCode: CS CNE [0..1] &lt;= HumanLanguage</tspan><tspan x="2" dy="5.2">value: SET&lt;ANY&gt; [0..*]</tspan><tspan x="2" dy="5.2">interpretationCode: SET&lt;CE&gt; CWE [0..*]</tspan><tspan x="2" dy="5.2">methodCode: SET&lt;CE&gt; CWE [0..*]</tspan><tspan x="2" dy="5.2">targetSiteCode: SET&lt;CD&gt; CWE [0..*]</tspan></text></g>
<g class="red" transform="translate(1385,177)"><rect width="118" height="36"/><text x="2" y="5.5"><tspan class="b">RegionOfInterest</tspan><tspan x="2" dy="5.2">classCode*: &lt;= ROIOVL</tspan><tspan x="2" dy="5.2">moodCode*: &lt;= EVN</tspan><tspan x="2" dy="5.2">id*: SET&lt;II&gt; [1..*]</tspan><tspan x="2" dy="5.2">code*: CS CNE [1..1] &lt;= ROIOverlayShape</tspan><tspan x="2" dy="5.2">value*: LIST&lt;INT&gt; [1..*]</tspan></text></g>
<g class="red" transform="translate(1385,218)"><rect width="118" height="36"/><text x="2" y="5.5"><tspan class="b">ObservationMedia</tspan><tspan x="2" dy="5.2">classCode*: &lt;= OBS</tspan><tspan x="2" dy="5.2">moodCode*: &lt;= EVN</tspan><tspan x="2" dy="5.2">id: SET&lt;II&gt; [0..*]</tspan><tspan x="2" dy="5.2">languageCode: CS CNE [0..1] &lt;= HumanLanguage</tspan><tspan x="2" dy="5.2">value*: ED [1..1]</tspan></text></g>
<g class="red" transform="translate(1385,259)"><rect width="118" height="104"/><text x="2" y="5.5"><tspan class="b">SubstanceAdministration</tspan><tspan x="2" dy="5.2">classCode*: &lt;= SBADM</tspan><tspan x="2" dy="5.2">moodCode*: &lt;= x_DocumentSubstanceMood</tspan><tspan x="2" dy="5.2">id: SET&lt;II&gt; [0..*]</tspan><tspan x="2" dy="5.2">code: CD CWE [0..1] &lt;= SubstanceAdministrationActCode</tspan><tspan x="2" dy="5.2">negationInd: BL [0..1]</tspan><tspan x="2" dy="5.2">text: ED [0..1]</tspan><tspan x="2" dy="5.2">statusCode: CS CNE [0..1] &lt;= ActStatus</tspan><tspan x="2" dy="5.2">effectiveTime: GTS [0..*]</tspan><tspan x="2" dy="5.2">priorityCode: CE CWE [0..1] &lt;= ActPriority</tspan><tspan x="2" dy="5.2">repeatNumber: IVL&lt;INT&gt; [0..1]</tspan><tspan x="2" dy="5.2">routeCode: CE CWE [0..1] &lt;= RouteOfAdministration</tspan><tspan x="2" dy="5.2">approachSiteCode: SET&lt;CD&gt; CWE [0..*] &lt;= ActSite</tspan><tspan x="2" dy="5.2">doseQuantity: IVL&lt;PQ&gt; [0..1]</tspan><tspan x="2" dy="5.2">rateQuantity: IVL&lt;PQ&gt; [0..1]</tspan><tspan x="2" dy="5.2">maxDoseQuantity: RTO&lt;PQ,PQ&gt; [0..1]</tspan><tspan x="2" dy="5.2">administrationUnitCode: CE CWE [0..1] &lt;=</tspan><tspan x="2" dy="5.2">AdministrableDrugForm</tspan></text></g>
<g class="red" transform="translate(1385,367)"><rect width="118" height="74"/><text x="2" y="5.5"><tspan class="b">Supply</tspan><tspan x="2" dy="5.2">classCode*: &lt;= SPLY</tspan><tspan x="2" dy="5.2">moodCode*: &lt;= x_DocumentSubstanceMood</tspan><tspan x="2" dy="5.2">id: SET&lt;II&gt; [0..*]</tspan><tspan x="2" dy="5.2">code: CD CWE [0..1] &lt;= ActCode</tspan><tspan x="2" dy="5.2">text: ED [0..1]</tspan><tspan x="2" dy="5.2">statusCode: CS CNE [0..1] &lt;= ActStatus</tspan><tspan x="2" dy="5.2">effectiveTime: GTS [0..*]</tspan><tspan x="2" dy="5.2">priorityCode: SET&lt;CE&gt; CWE [0..*] &lt;= ActPriority</tspan><tspan x="2" dy="5.2">repeatNumber: IVL&lt;INT&gt; [0..1]</tspan><tspan x="2" dy="5.2">independentInd: BL [0..1]</tspan><tspan x="2" dy="5.2">quantity: PQ [0..1]</tspan><tspan x="2" dy="5.2">expectedUseTime: IVL&lt;TS&gt; [0..1]</tspan></text></g>
<g class="red" transform="translate(1385,446)"><rect width="118" height="78"/><text x="2" y="5.5"><tspan class="b">Procedure</tspan><tspan x="2" dy="5.2">classCode*: &lt;= PROC</tspan><tspan x="2" dy="5.2">moodCode*: &lt;= x_DocumentProcedureMood</tspan><tspan x="2" dy="5.2">id: SET&lt;II&gt; [0..*]</tspan><tspan x="2" dy="5.2">code: CD CWE [0..1]</tspan><tspan x="2" dy="5.2">negationInd: BL [0..1]</tspan><tspan x="2" dy="5.2">text: ED [0..1]</tspan><tspan x="2" dy="5.2">statusCode: CS CNE [0..1] &lt;= ActStatus</tspan><tspan x="2" dy="5.2">effectiveTime: IVL&lt;TS&gt; [0..1]</tspan><tspan x="2" dy="5.2">priorityCode: CE CWE [0..1] &lt;= ActPriority</tspan><tspan x="2" dy="5.2">languageCode: CS CNE [0..1] &lt;= HumanLanguage</tspan><tspan x="2" dy="5.2">methodCode: SET&lt;CE&gt; CWE [0..*]</tspan><tspan x="2" dy="5.2">approachSiteCode: SET&lt;CD&gt; CWE [0..*]</tspan><tspan x="2" dy="5.2">targetSiteCode: SET&lt;CD&gt; CWE [0..*]</tspan></text></g>
<g class="red" transform="translate(1385,529)"><rect width="118" height="56"/><text x="2" y="5.5"><tspan class="b">Encounter</tspan><tspan x="2" dy="5.2">classCode*: &lt;= ENC</tspan><tspan x="2" dy="5.2">moodCode*: &lt;= x_DocumentEncounterMood</tspan><tspan x="2" dy="5.2">id: SET&lt;II&gt; [0..*]</tspan><tspan x="2" dy="5.2">code: CD CWE [0..1] &lt;= ActEncounterCode</tspan><tspan x="2" dy="5.2">text: ED [0..1]</tspan><tspan x="2" dy="5.2">statusCode: CS CNE [0..1] &lt;= ActStatus</tspan><tspan x="2" dy="5.2">effectiveTime: IVL&lt;TS&gt; [0..1]</tspan><tspan x="2" dy="5.2">priorityCode: CE CWE [0..1] &lt;= ActPriority</tspan></text></g>
<g class="red" transform="translate(1385,589)"><rect width="118" height="51"/><text x="2" y="5.5"><tspan class="b">Organizer</tspan><tspan x="2" dy="5.2">classCode*: &lt;= x_ActClassDocumentEntryOrganizer</tspan><tspan x="2" dy="5.2">moodCode*: &lt;= EVN</tspan><tspan x="2" dy="5.2">id: SET&lt;II&gt; [0..*]</tspan><tspan x="2" dy="5.2">code: CD CWE [0..1] &lt;= ActCode</tspan><tspan x="2" dy="5.2">statusCode*: CS CNE [1..1] &lt;= ActStatus</tspan><tspan x="2" dy="5.2">effectiveTime: IVL&lt;TS&gt; [0..1]</tspan></text></g>
<g class="red" transform="translate(1385,646)"><rect width="118" height="66"/><text x="2" y="5.5"><tspan class="b">Act</tspan><tspan x="2" dy="5.2">classCode*: &lt;= x_ActClassDocumentEntryAct</tspan><tspan x="2" dy="5.2">moodCode*: &lt;= x_DocumentActMood</tspan><tspan x="2" dy="5.2">id: SET&lt;II&gt; [0..*]</tspan><tspan x="2" dy="5.2">code*: CD CWE [1..1] &lt;= ActCode</tspan><tspan x="2" dy="5.2">negationInd: BL [0..1]</tspan><tspan x="2" dy="5.2">text: ED [0..1]</tspan><tspan x="2" dy="5.2">statusCode: CS CNE [0..1] &lt;= ActStatus</tspan><tspan x="2" dy="5.2">effectiveTime: IVL&lt;TS&gt; [0..1]</tspan><tspan x="2" dy="5.2">priorityCode: CE CWE [0..1] &lt;= ActPriority</tspan><tspan x="2" dy="5.2">languageCode: CS CNE [0..1] &lt;= HumanLanguage</tspan></text></g></g>

<g id="n-referencerange" class="pink" transform="translate(1503,92)"><path d="M0,0 H68 L74,5.5 L68,11 H0 Z"/><text x="2" y="4.8"><tspan class="b">referenceRange</tspan><tspan x="2" dy="4.8">typeCode*: &lt;= REFV</tspan></text></g>
<g id="n-observationrange" class="red" transform="translate(1577,63)"><rect width="132" height="42"/><text x="2" y="5.5"><tspan class="b">ObservationRange</tspan><tspan x="2" dy="5.2">classCode*: &lt;= OBS</tspan><tspan x="2" dy="5.2">moodCode*: &lt;= EVN.CRT</tspan><tspan x="2" dy="5.2">code: CD CWE [0..1] &lt;= ActCode</tspan><tspan x="2" dy="5.2">text: ED [0..1]</tspan><tspan x="2" dy="5.2">value: ANY [0..1]</tspan><tspan x="2" dy="5.2">interpretationCode: CE CWE [0..1] &lt;= ObservationInterpretation</tspan></text></g>
<g id="n-note-observation" class="note" transform="translate(1539,123)"><path d="M0,0 H66 L71,5 V24 H0 Z" style="fill:#fff"/><text x="2" y="5"><tspan class="b">Note:</tspan><tspan x="2" dy="5">Observation value has cardinality</tspan><tspan x="2" dy="5">[0..*], which doesn't show up in the</tspan><tspan x="2" dy="5">Visio representation.</tspan></text></g>
<g id="n-precondition" class="pink" transform="translate(1509,185)"><path d="M0,0 H62 L68,6 L62,12 H0 Z"/><text x="2" y="5"><tspan class="b">precondition</tspan><tspan x="2" dy="5">typeCode*: &lt;= PRCN</tspan></text></g>
<g id="n-criterion" class="red" transform="translate(1579,161)"><rect width="130" height="36"/><text x="2" y="5.5"><tspan class="b">Criterion</tspan><tspan x="2" dy="5.2">classCode*: &lt;= OBS</tspan><tspan x="2" dy="5.2">moodCode*: &lt;= EVN.CRT</tspan><tspan x="2" dy="5.2">code: CD CWE [0..1] &lt;= ActCode</tspan><tspan x="2" dy="5.2">text: ED [0..1]</tspan><tspan x="2" dy="5.2">value: ANY [0..1]</tspan></text></g>
<g id="n-reference" class="pink" transform="translate(1510,492)"><path d="M0,0 H195 L201,8 L195,16 H0 Z"/><text x="2" y="5.2"><tspan class="b">reference</tspan><tspan x="2" dy="5">typeCode*: &lt;= x_ActRelationshipExternalReference</tspan><tspan x="2" dy="5">seperatableInd: BL [0..1]</tspan></text></g>
<g id="n-externalactchoice"><rect class="dash" x="1711" y="438" width="96" height="186"/><text class="ct" x="1759" y="444">externalActChoice</text>
<g class="red" transform="translate(1716,448)"><rect width="87" height="37"/><text x="2" y="5.5"><tspan class="b">ExternalAct</tspan><tspan x="2" dy="5.2">classCode*: &lt;= ACT</tspan><tspan x="2" dy="5.2">moodCode*: &lt;= EVN</tspan><tspan x="2" dy="5.2">id: SET&lt;II&gt; [0..*]</tspan><tspan x="2" dy="5.2">code: CD CWE [0..1] &lt;= ActCode</tspan><tspan x="2" dy="5.2">text: ED [0..1]</tspan></text></g>
<g class="red" transform="translate(1716,490)"><rect width="87" height="36"/><text x="2" y="5.5"><tspan class="b">ExternalObservation</tspan><tspan x="2" dy="5.2">classCode*: &lt;= OBS</tspan><tspan x="2" dy="5.2">moodCode*: &lt;= EVN</tspan><tspan x="2" dy="5.2">id: SET&lt;II&gt; [0..*]</tspan><tspan x="2" dy="5.2">code: CD CWE [0..1] &lt;= ActCode</tspan><tspan x="2" dy="5.2">text: ED [0..1]</tspan></text></g>
<g class="red" transform="translate(1716,531)"><rect width="87" height="36"/><text x="2" y="5.5"><tspan class="b">ExternalProcedure</tspan><tspan x="2" dy="5.2">classCode*: &lt;= PROC</tspan><tspan x="2" dy="5.2">moodCode*: &lt;= EVN</tspan><tspan x="2" dy="5.2">id: SET&lt;II&gt; [0..*]</tspan><tspan x="2" dy="5.2">code: CD CWE [0..1] &lt;= ActCode</tspan><tspan x="2" dy="5.2">text: ED [0..1]</tspan></text></g>
<g class="red" transform="translate(1716,572)"><rect width="87" height="46"/><text x="2" y="5.5"><tspan class="b">ExternalDocument</tspan><tspan x="2" dy="5.2">classCode*: &lt;= DOC</tspan><tspan x="2" dy="5.2">moodCode*: &lt;= EVN</tspan><tspan x="2" dy="5.2">id: SET&lt;II&gt; [0..*]</tspan><tspan x="2" dy="5.2">code: CD CWE [0..1] &lt;= DocumentType</tspan><tspan x="2" dy="5.2">text: ED [0..1]</tspan><tspan x="2" dy="5.2">setId: II [0..1]</tspan><tspan x="2" dy="5.2">versionNumber: INT [0..1]</tspan></text></g></g>
<g id="n-component-organizer" class="pink" transform="translate(1508,588)"><path d="M0,0 H78 V49 H0 V12 L-3,9 L0,6 Z"/><text x="2" y="23"><tspan class="b">component</tspan><tspan x="2" dy="5">typeCode*: &lt;= COMP</tspan><tspan x="2" dy="5">contextConductionInd*: BL [1..1] "true"</tspan><tspan x="2" dy="5">sequenceNumber: INT [0..1]</tspan><tspan x="2" dy="5">seperatableInd: BL [0..1]</tspan></text></g>
<g id="n-note-organizer" class="note" transform="translate(1570,646)"><rect width="88" height="23"/><text x="2" y="5"><tspan>Constraint: Organizer</tspan><tspan x="2" dy="4.5">The Organizer, if used, can not be the source</tspan><tspan x="2" dy="4.5">of the component relationship, i.e.</tspan><tspan x="2" dy="4.5">the Organizer relationship can not</tspan><tspan x="2" dy="4.5">be the source of an Organizer relationship.</tspan></text></g>
</svg>
